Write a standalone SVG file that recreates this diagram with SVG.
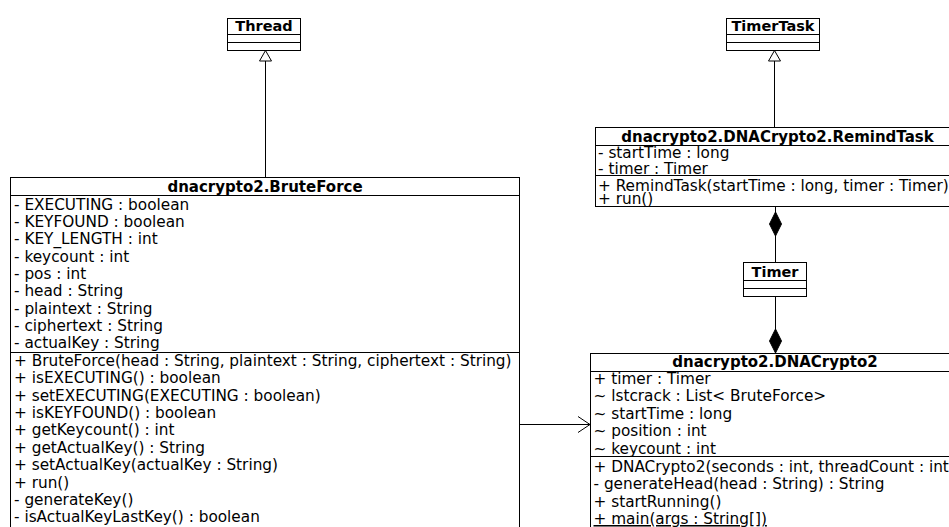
<svg xmlns="http://www.w3.org/2000/svg" width="949" height="527" viewBox="0 0 949 527">
  <style>
    .box { fill: #fff; stroke: #000; stroke-width: 1; }
    .sep { stroke: #000; stroke-width: 1; }
    .title { font-family: "DejaVu Sans", "Liberation Sans", sans-serif; font-size: 15px; font-weight: bold; text-anchor: middle; fill: #000; }
    .small { font-size: 14.5px; }
    .m { font-family: "DejaVu Sans", "Liberation Sans", sans-serif; font-size: 15.3px; fill: #000; }
    .static { text-decoration: underline; }
    .edge { fill: none; stroke: #000; stroke-width: 1; }
    .hollow { fill: #fff; stroke: #000; stroke-width: 1; }
    .solid { fill: #000; stroke: #000; stroke-width: 1; }
  </style>
  <rect width="949" height="527" fill="#fff"/>

  <!-- connectors -->
  <g id="connectors">
    <!-- BruteForce extends Thread -->
    <line class="edge" x1="265.5" y1="61" x2="265.5" y2="177.5"/>
    <polygon class="hollow" points="265.5,50.5 271.5,61 259.5,61"/>
    <!-- RemindTask extends TimerTask -->
    <line class="edge" x1="774.5" y1="61" x2="774.5" y2="127.5"/>
    <polygon class="hollow" points="774.5,50.5 780.5,61 768.5,61"/>
    <!-- RemindTask owns Timer -->
    <line class="edge" x1="775.5" y1="206.5" x2="775.5" y2="262.5"/>
    <polygon class="solid" points="775.5,212 781.5,224 775.5,236 769.5,224"/>
    <!-- DNACrypto2 owns Timer -->
    <line class="edge" x1="775.5" y1="296.5" x2="775.5" y2="353.5"/>
    <polygon class="solid" points="775.5,329 781.5,341 775.5,353 769.5,341"/>
    <!-- BruteForce uses DNACrypto2 -->
    <line class="edge" x1="519.5" y1="424.5" x2="590" y2="424.5"/>
    <polyline class="edge" points="578,416.5 590,424.5 578,432.5"/>
  </g>

  <!-- java.lang.Thread -->
  <g id="thread">
    <rect class="box" x="227.5" y="18.5" width="73" height="32"/>
    <line class="sep" x1="227.5" y1="34.5" x2="300.5" y2="34.5"/>
    <line class="sep" x1="227.5" y1="42.5" x2="300.5" y2="42.5"/>
    <text class="title small" x="264" y="30.5">Thread</text>
  </g>

  <!-- java.util.TimerTask -->
  <g id="timertask">
    <rect class="box" x="726.5" y="18.5" width="93" height="32"/>
    <line class="sep" x1="726.5" y1="34.5" x2="819.5" y2="34.5"/>
    <line class="sep" x1="726.5" y1="42.5" x2="819.5" y2="42.5"/>
    <text class="title small" x="773" y="30.5">TimerTask</text>
  </g>

  <!-- java.util.Timer -->
  <g id="timer">
    <rect class="box" x="743.5" y="262.5" width="63" height="34"/>
    <line class="sep" x1="743.5" y1="280.5" x2="806.5" y2="280.5"/>
    <line class="sep" x1="743.5" y1="288.5" x2="806.5" y2="288.5"/>
    <text class="title small" x="775" y="277">Timer</text>
  </g>

  <!-- dnacrypto2.DNACrypto2.RemindTask -->
  <g id="remindtask">
    <rect class="box" x="595.5" y="127.5" width="370" height="79"/>
    <line class="sep" x1="595.5" y1="145.5" x2="965.5" y2="145.5"/>
    <line class="sep" x1="595.5" y1="175.5" x2="965.5" y2="175.5"/>
    <text class="title" x="777.5" y="141.5">dnacrypto2.DNACrypto2.RemindTask</text>
    <text class="m" x="598" y="157.5">- startTime : long</text>
    <text class="m" x="598" y="173.5">- timer : Timer</text>
    <text class="m" x="598" y="190.5">+ RemindTask(startTime : long, timer : Timer)</text>
    <text class="m" x="598" y="204">+ run()</text>
  </g>

  <!-- dnacrypto2.BruteForce -->
  <g id="bruteforce">
    <rect class="box" x="10.5" y="177.5" width="509" height="360"/>
    <line class="sep" x1="10.5" y1="195.5" x2="519.5" y2="195.5"/>
    <line class="sep" x1="10.5" y1="352.5" x2="519.5" y2="352.5"/>
    <text class="title" x="265" y="191.5">dnacrypto2.BruteForce</text>
    <text class="m" x="14" y="209.5">- EXECUTING : boolean</text>
    <text class="m" x="14" y="226.9">- KEYFOUND : boolean</text>
    <text class="m" x="14" y="244.2">- KEY_LENGTH : int</text>
    <text class="m" x="14" y="261.6">- keycount : int</text>
    <text class="m" x="14" y="278.9">- pos : int</text>
    <text class="m" x="14" y="296.3">- head : String</text>
    <text class="m" x="14" y="313.6">- plaintext : String</text>
    <text class="m" x="14" y="331">- ciphertext : String</text>
    <text class="m" x="14" y="348.3">- actualKey : String</text>
    <text class="m" x="14" y="366">+ BruteForce(head : String, plaintext : String, ciphertext : String)</text>
    <text class="m" x="14" y="383.4">+ isEXECUTING() : boolean</text>
    <text class="m" x="14" y="400.7">+ setEXECUTING(EXECUTING : boolean)</text>
    <text class="m" x="14" y="418.1">+ isKEYFOUND() : boolean</text>
    <text class="m" x="14" y="435.4">+ getKeycount() : int</text>
    <text class="m" x="14" y="452.8">+ getActualKey() : String</text>
    <text class="m" x="14" y="470.1">+ setActualKey(actualKey : String)</text>
    <text class="m" x="14" y="487.5">+ run()</text>
    <text class="m" x="14" y="504.8">- generateKey()</text>
    <text class="m" x="14" y="522.2">- isActualKeyLastKey() : boolean</text>
  </g>

  <!-- dnacrypto2.DNACrypto2 -->
  <g id="dnacrypto2">
    <rect class="box" x="590.5" y="353.5" width="380" height="200"/>
    <line class="sep" x1="590.5" y1="371.5" x2="970.5" y2="371.5"/>
    <line class="sep" x1="590.5" y1="456.5" x2="970.5" y2="456.5"/>
    <text class="title" x="775" y="366.5">dnacrypto2.DNACrypto2</text>
    <text class="m" x="593.5" y="384">+ timer : Timer</text>
    <text class="m" x="593.5" y="401.4">~ lstcrack : List&lt; BruteForce&gt;</text>
    <text class="m" x="593.5" y="418.8">~ startTime : long</text>
    <text class="m" x="593.5" y="436.2">~ position : int</text>
    <text class="m" x="593.5" y="453.6">~ keycount : int</text>
    <text class="m" x="593.5" y="471.5">+ DNACrypto2(seconds : int, threadCount : int)</text>
    <text class="m" x="593.5" y="489">- generateHead(head : String) : String</text>
    <text class="m" x="593.5" y="506.5">+ startRunning()</text>
    <text class="m static" x="593.5" y="524">+ main(args : String[])</text>
  </g>
</svg>
